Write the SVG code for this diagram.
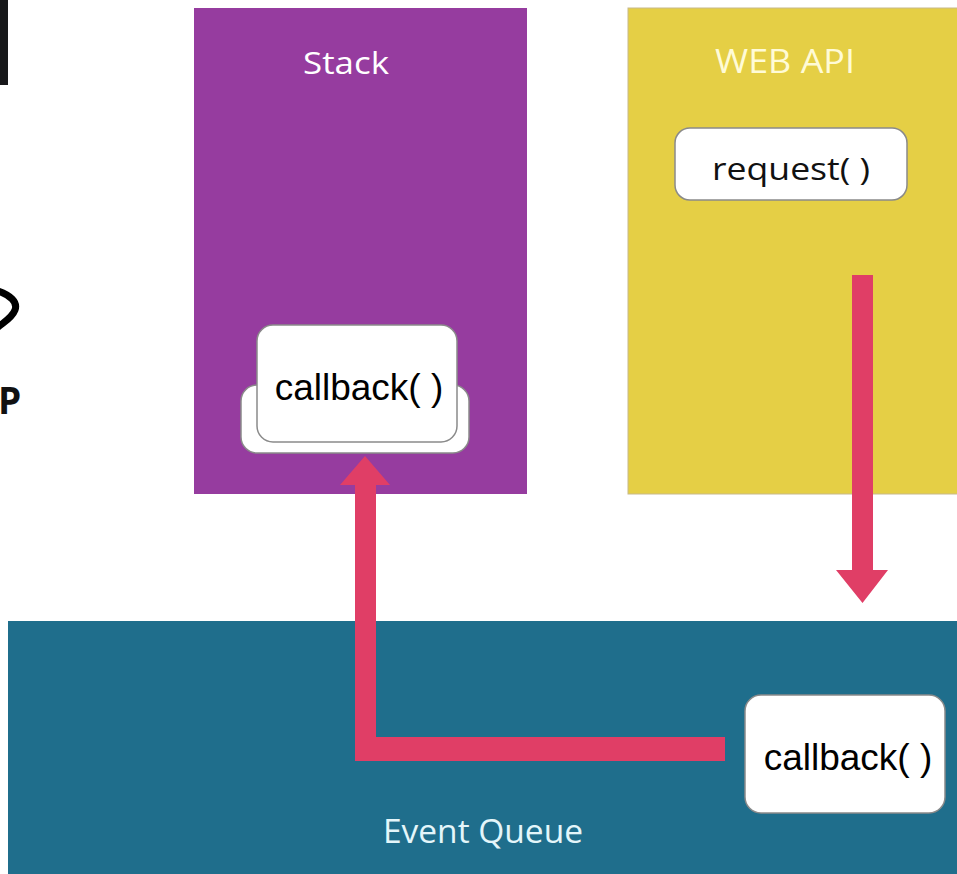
<svg xmlns="http://www.w3.org/2000/svg" width="957" height="874" viewBox="0 0 957 874">
  <defs>
    <style>
      .title { font-family: "Open Sans", "Noto Sans", sans-serif; text-anchor: middle; }
      .fn { font-family: "Liberation Sans", Arial, sans-serif; fill: #000; text-anchor: middle; }
      .card { fill: #ffffff; stroke: #8a8a8a; stroke-width: 1.5; }
      .flow { fill: #E03E66; }
    </style>
  </defs>

  <rect width="957" height="874" fill="#ffffff"/>

  <!-- cropped fragments at the left edge -->
  <rect x="0" y="0" width="8" height="85" fill="#17181A"/>
  <path d="M -2 291 C 10 295, 18 302, 15 310 C 12 318, 4 322, -2 327" fill="none" stroke="#000" stroke-width="7" stroke-linecap="round"/>
  <text x="-2" y="414" font-family="'Open Sans', sans-serif" font-weight="bold" font-size="37" fill="#111">P</text>

  <!-- Call stack -->
  <g id="stack">
    <rect x="194" y="8" width="333" height="486" fill="#963C9F"/>
    <text class="title" x="346" y="74" font-size="31" fill="#ffffff" textLength="86" lengthAdjust="spacingAndGlyphs">Stack</text>
    <rect class="card" x="241" y="385" width="228" height="68" rx="16"/>
    <rect class="card" x="257" y="325" width="200" height="117" rx="16"/>
    <text class="fn" x="359" y="400" font-size="37">callback( )</text>
  </g>

  <!-- Web API -->
  <g id="web-api">
    <rect x="628" y="8" width="335" height="486" fill="#E5CF45" stroke="#c8b98a" stroke-width="1"/>
    <text class="title" x="785" y="73" font-size="33" fill="#FFFBD6" textLength="140" lengthAdjust="spacingAndGlyphs">WEB API</text>
    <rect class="card" x="675" y="128" width="232" height="72" rx="15"/>
    <text class="title" x="791" y="180" font-size="31" fill="#111" textLength="158" lengthAdjust="spacingAndGlyphs">request( )</text>
  </g>

  <!-- Event queue -->
  <g id="event-queue">
    <rect x="8" y="621" width="955" height="260" fill="#1F6E8C"/>
    <text class="title" x="483" y="843" font-size="33" fill="#E4F6FA" textLength="200" lengthAdjust="spacingAndGlyphs">Event Queue</text>
    <rect class="card" x="745" y="695" width="200" height="118" rx="16"/>
    <text class="fn" x="848" y="770" font-size="37">callback( )</text>
  </g>

  <!-- Connectors -->
  <g id="connectors">
    <!-- Web API to event queue -->
    <polygon class="flow" points="852,275 873,275 873,570 888,570 862.5,603 836,570 852,570"/>
    <!-- event queue back to the stack -->
    <polygon class="flow" points="725,737 725,761 355,761 355,485 340,485 365,456 390,485 376,485 376,737"/>
  </g>
</svg>
